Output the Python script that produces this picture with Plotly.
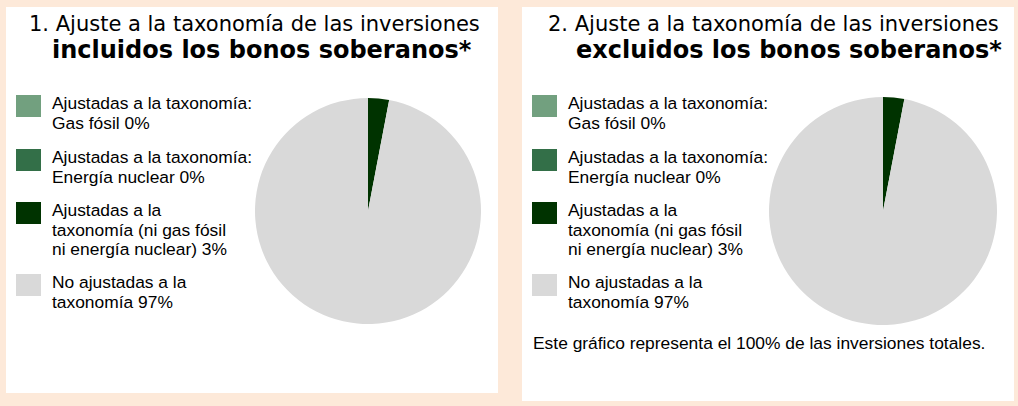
import plotly.graph_objects as go

# Figure size in pixels
W, H = 1018, 406

# ---- data -------------------------------------------------------------
categories = [
    "Ajustadas a la taxonomía: Gas fósil",
    "Ajustadas a la taxonomía: Energía nuclear",
    "Ajustadas a la taxonomía (ni gas fósil ni energía nuclear)",
    "No ajustadas a la taxonomía",
]
values_incl_sovereign = [0, 0, 3, 97]
values_excl_sovereign = [0, 0, 3, 97]

# legend text, broken into lines; {v} is filled with the slice value
label_lines = [
    ["Ajustadas a la taxonomía:", "Gas fósil {v}%"],
    ["Ajustadas a la taxonomía:", "Energía nuclear {v}%"],
    ["Ajustadas a la", "taxonomía (ni gas fósil", "ni energía nuclear) {v}%"],
    ["No ajustadas a la", "taxonomía {v}%"],
]

title_regular = [
    "1. Ajuste a la taxonomía de las inversiones",
    "2. Ajuste a la taxonomía de las inversiones",
]
title_bold = [
    "incluidos los bonos soberanos*",
    "excluidos los bonos soberanos*",
]
footnote = "Este gráfico representa el 100% de las inversiones totales."

# ---- style ------------------------------------------------------------
slice_colors = ["#72a07f", "#336f48", "#003300", "#d9d9d9"]
page_bg = "#fde9d9"
text_font = "Liberation Sans, Arial, sans-serif"
title_font = "DejaVu Sans, Arial, sans-serif"
text_size = 17.4


def fx(x):
    return x / W


def fy(y):
    return 1 - y / H


# panel geometry (pixels)
panel_left = [6, 522]
panel_right = [498, 1014]
panel_top = [7, 7]
panel_bottom = [393, 401]
pie_center = [(368, 211), (883, 211)]
pie_radius = [113, 114]
title_center_1 = [254, 773]
title_center_2 = [262, 789]
legend_tops = [95, 149, 202, 274]
swatch_w, swatch_h = 25, 22
line_step = 19.7

fig = go.Figure()
shapes = []
annotations = []

series = [values_incl_sovereign, values_excl_sovereign]

for p, vals in enumerate(series):
    x0 = panel_left[p]
    # white panel
    shapes.append(dict(
        type="rect", xref="paper", yref="paper",
        x0=fx(x0), x1=fx(panel_right[p]),
        y0=fy(panel_bottom[p]), y1=fy(panel_top[p]),
        fillcolor="white", line=dict(width=0), layer="below",
    ))

    # pie
    cx, cy = pie_center[p]
    r = pie_radius[p]
    fig.add_trace(go.Pie(
        labels=categories,
        values=vals,
        marker=dict(colors=slice_colors, line=dict(width=0)),
        sort=False,
        direction="clockwise",
        rotation=0,
        textinfo="none",
        hoverinfo="label+percent",
        showlegend=False,
        domain=dict(x=[fx(cx - r), fx(cx + r)], y=[fy(cy + r), fy(cy - r)]),
    ))

    # titles
    annotations.append(dict(
        text=title_regular[p], xref="paper", yref="paper",
        x=fx(title_center_1[p]), y=fy(24), xanchor="center", yanchor="middle",
        showarrow=False, font=dict(family=title_font, size=21, color="black"),
    ))
    annotations.append(dict(
        text=f"<b>{title_bold[p]}</b>", xref="paper", yref="paper",
        x=fx(title_center_2[p]), y=fy(49.5), xanchor="center", yanchor="middle",
        showarrow=False, font=dict(family=title_font, size=24, color="black"),
    ))

    # legend: swatches and text
    for i, (lines, v) in enumerate(zip(label_lines, vals)):
        top = legend_tops[i]
        sx = x0 + 10
        shapes.append(dict(
            type="rect", xref="paper", yref="paper",
            x0=fx(sx), x1=fx(sx + swatch_w),
            y0=fy(top + swatch_h), y1=fy(top),
            fillcolor=slice_colors[i], line=dict(width=0),
        ))
        for k, line in enumerate(lines):
            annotations.append(dict(
                text=line.format(v=v), xref="paper", yref="paper",
                x=fx(x0 + 44), y=fy(top + 8 + k * line_step),
                xanchor="left", yanchor="middle", showarrow=False,
                font=dict(family=text_font, size=text_size, color="black"),
            ))

# note under the second chart
annotations.append(dict(
    text=footnote, xref="paper", yref="paper",
    x=fx(531), y=fy(342.5), xanchor="left", yanchor="middle", showarrow=False,
    font=dict(family=text_font, size=text_size, color="black"),
))

fig.update_layout(
    width=W, height=H,
    margin=dict(l=0, r=0, t=0, b=0),
    paper_bgcolor=page_bg,
    plot_bgcolor=page_bg,
    shapes=shapes,
    annotations=annotations,
)

fig.write_html("out.html")
